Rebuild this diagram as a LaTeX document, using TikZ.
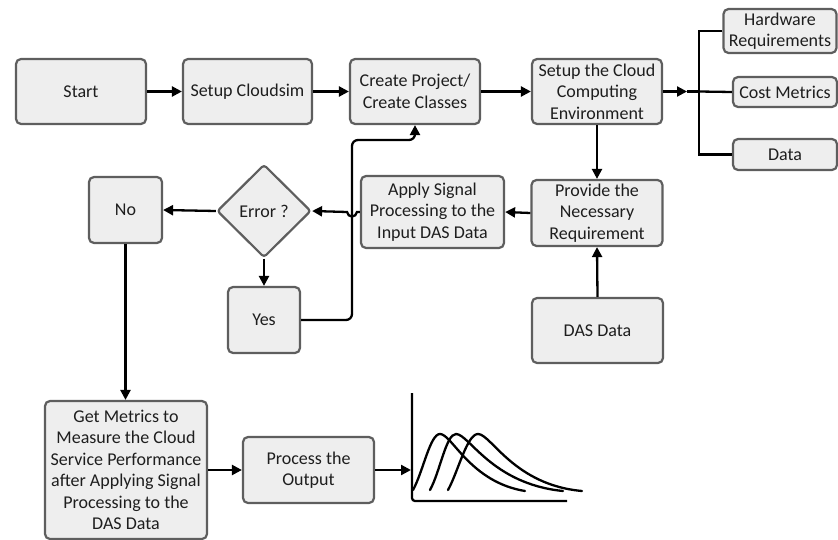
\documentclass[tikz,border=0pt]{standalone}
\usepackage{fontspec}
\setmainfont{Carlito}
\usetikzlibrary{shapes.geometric,arrows.meta}
\definecolor{boxfill}{HTML}{EEEEEE}
\definecolor{boxline}{HTML}{5E5E5E}
\definecolor{ink}{HTML}{1E1E1E}
\tikzset{
  box/.style={draw=boxline, fill=boxfill, line width=2.2pt, rounded corners=5pt,
    align=center, inner sep=1pt, text=ink,
    font=\fontsize{18}{21.5}\selectfont},
  decision/.style={box, diamond, rounded corners=3pt, inner sep=0pt},
  link/.style={line width=2.3pt, black},
  arrow/.style={link, -{Triangle[length=10pt,width=10pt]}},
  curve/.style={line width=2.3pt, black, line cap=round},
}
\begin{document}
\begin{tikzpicture}[x=1pt,y=-1pt]
\useasboundingbox (0,0) rectangle (838,540);

% top row
\node[box, minimum width=130pt, minimum height=65pt] (start) at (81,91.5) {Start};
\node[box, minimum width=129pt, minimum height=65pt] (cloudsim) at (247.5,91.5) {Setup Cloudsim};
\node[box, minimum width=130pt, minimum height=65pt] (create) at (415,91.5) {Create Project/\\Create Classes};
\node[box, minimum width=130pt, minimum height=65pt] (env) at (597,91.5) {Setup the Cloud\\Computing\\Environment};

% requirement boxes on the right
\node[box, minimum width=113pt, minimum height=44pt] (hw) at (780,31) {Hardware\\Requirements};
\node[box, minimum width=104pt, minimum height=30pt] (cost) at (785,92) {Cost Metrics};
\node[box, minimum width=104pt, minimum height=31pt] (data) at (785,154.5) {Data};

% middle row
\node[box, minimum width=131pt, minimum height=66pt] (provide) at (597,213) {Provide the\\Necessary\\Requirement};
\node[box, minimum width=131pt, minimum height=65pt] (das) at (597.5,330.5) {DAS Data};
\node[box, minimum width=143pt, minimum height=72pt] (apply) at (432.5,212) {Apply Signal\\Processing to the\\Input DAS Data};
\node[decision, minimum width=94pt, minimum height=93pt] (err) at (264,211) {Error ?};
\node[box, minimum width=73pt, minimum height=66pt] (no) at (125.5,210) {No};
\node[box, minimum width=72pt, minimum height=66pt] (yes) at (264,320) {Yes};

% bottom row
\node[box, minimum width=162pt, minimum height=138pt] (get) at (126,470)
  {Get Metrics to\\Measure the Cloud\\Service Performance\\after Applying Signal\\Processing to the\\DAS Data};
\node[box, minimum width=131pt, minimum height=66pt] (proc) at (308.5,470) {Process the\\Output};

% helper points
\coordinate (brarrow) at (687,91.5);
\coordinate (br) at (699,91.5);
\coordinate (loop) at (352,140);
\coordinate (axis) at (411,470);

% connectors
\draw[arrow] (start) -- (cloudsim);
\draw[arrow] (cloudsim) -- (create);
\draw[arrow] (create) -- (env);
\draw[arrow] (env.east) -- (brarrow);
\draw[link] (brarrow) -- (br);
\draw[link] (hw.west) -| (br) |- (data.west);
\draw[link] (br) -- (cost.west);
\draw[arrow] (env.south) -- (provide.north);
\draw[arrow] (das.north) -- (provide.south);
\draw[arrow] (provide.west) -- (apply.east);
\draw[arrow] (apply.west) -- (357,212) .. controls (356,218) and (348,218) .. (347,212) -- (err.east);
\draw[arrow] (err.west) -- (no.east);
\draw[arrow] (err.south) -- (yes.north);
\draw[arrow, rounded corners=6pt] (yes.east) -| (loop) -| (create.south);
\draw[arrow] (no.south) -- (no.south |- get.north);
\draw[arrow] (get.east) -- (proc.west);
\draw[arrow] (proc.east) -- (axis);

% output plot
\draw[link, rounded corners=3pt] (412,393) -- (412,501) -- (567,501);
\draw[curve] (413,490) .. controls (423,472) and (430,434) .. (440,434)
  .. controls (452,434) and (470,482) .. (525,491);
\draw[curve] (430,490) .. controls (440,472) and (446,434) .. (456,434)
  .. controls (469,434) and (492,484) .. (563,491);
\draw[curve] (448,490) .. controls (458,472) and (467,434) .. (478,434)
  .. controls (491,434) and (514,485) .. (582,491);
\end{tikzpicture}
\end{document}
